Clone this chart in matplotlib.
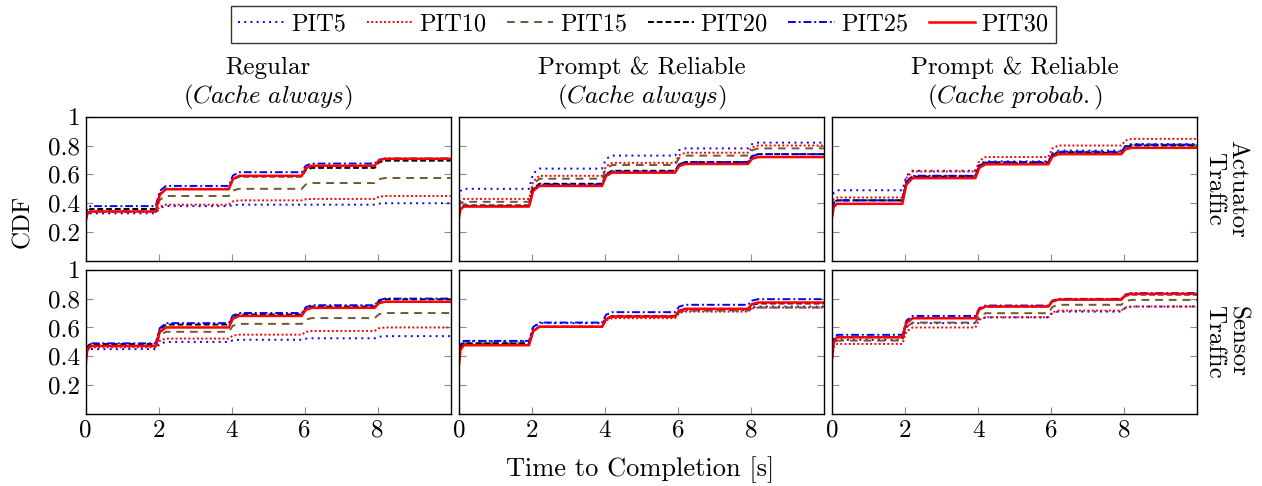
import matplotlib.pyplot as plt

plt.rcParams['font.family'] = 'serif'
plt.rcParams['font.serif'] = ['cmr10', 'DejaVu Serif']
plt.rcParams['mathtext.fontset'] = 'cm'
plt.rcParams['axes.formatter.use_mathtext'] = True

series = ['PIT5', 'PIT10', 'PIT15', 'PIT20', 'PIT25', 'PIT30']
step_times = [0, 2, 4, 6, 8]
x_ticks = [0, 2, 4, 6, 8]
y_ticks = [0.2, 0.4, 0.6, 0.8, 1]
y_tick_labels = ['0.2', '0.4', '0.6', '0.8', '1']
col_titles = ['Regular', 'Prompt & Reliable', 'Prompt & Reliable']
col_subtitles = [r'$(\mathit{Cache\ always})$', r'$(\mathit{Cache\ always})$',
                 r'$(\mathit{Cache\ probab.})$']
row_labels = ['Actuator\nTraffic', 'Sensor\nTraffic']

# plateau levels after each step (0-2, 2-4, 4-6, 6-8, 8-10), one row per PIT
act_regular = [[0.33, 0.38, 0.39, 0.39, 0.40],
               [0.34, 0.39, 0.42, 0.43, 0.45],
               [0.345, 0.45, 0.50, 0.54, 0.575],
               [0.36, 0.50, 0.585, 0.645, 0.695],
               [0.38, 0.52, 0.615, 0.675, 0.71],
               [0.343, 0.497, 0.59, 0.66, 0.708]]
act_regular_start = [0.30, 0.30, 0.30, 0.30, 0.31, 0.27]

act_prompt = [[0.50, 0.64, 0.73, 0.78, 0.82],
              [0.43, 0.59, 0.68, 0.75, 0.80],
              [0.41, 0.57, 0.665, 0.73, 0.78],
              [0.385, 0.535, 0.625, 0.685, 0.74],
              [0.38, 0.53, 0.62, 0.685, 0.74],
              [0.377, 0.52, 0.612, 0.672, 0.72]]
act_prompt_start = [0.44, 0.38, 0.37, 0.33, 0.32, 0.30]

act_probab = [[0.49, 0.625, 0.69, 0.765, 0.81],
              [0.44, 0.62, 0.72, 0.80, 0.846],
              [0.42, 0.59, 0.685, 0.755, 0.805],
              [0.42, 0.585, 0.68, 0.75, 0.80],
              [0.42, 0.59, 0.685, 0.757, 0.806],
              [0.396, 0.574, 0.67, 0.74, 0.784]]
act_probab_start = [0.42, 0.39, 0.36, 0.36, 0.36, 0.31]

sen_regular = [[0.45, 0.50, 0.515, 0.525, 0.54],
               [0.463, 0.523, 0.55, 0.576, 0.60],
               [0.472, 0.57, 0.625, 0.665, 0.70],
               [0.485, 0.62, 0.69, 0.745, 0.795],
               [0.49, 0.63, 0.70, 0.754, 0.80],
               [0.472, 0.60, 0.68, 0.736, 0.778]]
sen_regular_start = [0.38, 0.38, 0.38, 0.40, 0.40, 0.34]

sen_prompt = [[0.505, 0.63, 0.672, 0.72, 0.745],
              [0.483, 0.605, 0.664, 0.71, 0.738],
              [0.49, 0.605, 0.672, 0.717, 0.738],
              [0.49, 0.605, 0.68, 0.729, 0.766],
              [0.507, 0.634, 0.706, 0.757, 0.796],
              [0.477, 0.605, 0.676, 0.729, 0.773]]
sen_prompt_start = [0.40, 0.40, 0.40, 0.40, 0.40, 0.34]

sen_probab = [[0.514, 0.63, 0.67, 0.71, 0.745],
              [0.486, 0.60, 0.671, 0.717, 0.745],
              [0.509, 0.634, 0.699, 0.757, 0.791],
              [0.532, 0.665, 0.745, 0.793, 0.828],
              [0.549, 0.68, 0.752, 0.798, 0.838],
              [0.532, 0.664, 0.745, 0.793, 0.833]]
sen_probab_start = [0.42, 0.40, 0.42, 0.44, 0.44, 0.39]

panels = [[(act_regular, act_regular_start), (act_prompt, act_prompt_start),
           (act_probab, act_probab_start)],
          [(sen_regular, sen_regular_start), (sen_prompt, sen_prompt_start),
           (sen_probab, sen_probab_start)]]

colors = ['#0000ff', '#ff0000', '#735634', 'black', '#0000ff', '#ff0000']
styles = [(0, (1, 2.2)), (0, (1, 1.2)), (0, (4, 3)), (0, (3, 1.5)),
          (0, (4, 1.5, 1, 1.5)), '-']
widths = [1.4, 1.4, 1.4, 1.4, 1.4, 1.8]


def curve(levels, start):
    xs, ys = [0], [start]
    xs += [0.04, 0.13]
    ys += [start + 0.75 * (levels[0] - start), levels[0]]
    for i in range(1, len(step_times)):
        t = step_times[i]
        xs += [t - 0.08, t + 0.03, t + 0.2]
        ys += [levels[i - 1], levels[i - 1] + 0.75 * (levels[i] - levels[i - 1]), levels[i]]
    xs.append(10)
    ys.append(levels[-1])
    return xs, ys


fig = plt.figure(figsize=(12.62, 4.86), dpi=100)
lefts = [0.0679, 0.3637, 0.6595]
bottoms = [0.463, 0.148]
w, h = 0.2892, 0.297
fs = 18

handles = []
for r in range(2):
    for c in range(3):
        ax = fig.add_axes([lefts[c], bottoms[r], w, h])
        levels_all, starts = panels[r][c]
        for k in range(len(series)):
            xs, ys = curve(levels_all[k], starts[k])
            ln, = ax.plot(xs, ys, color=colors[k], linestyle=styles[k], lw=widths[k],
                          label=series[k])
            if r == 0 and c == 0:
                handles.append(ln)
        ax.set_xlim(0, 10)
        ax.set_ylim(0, 1)
        ax.set_xticks(x_ticks)
        ax.set_yticks(y_ticks)
        ax.tick_params(direction='in', length=5, color='0.55', right=True,
                       labelsize=fs, pad=4)
        if c == 0:
            ax.set_yticklabels(y_tick_labels)
        else:
            ax.set_yticklabels([])
        if r == 1:
            ax.set_xticklabels([str(v) for v in x_ticks])
        else:
            ax.set_xticklabels([])
        for s in ax.spines.values():
            s.set_linewidth(1.0)
        if c == 2:
            ax.text(1.077, 0.5, row_labels[r], transform=ax.transAxes, rotation=-90,
                    ha='center', va='center', fontsize=fs, linespacing=1.05)
        if r == 0:
            cx = lefts[c] + w / 2
            fig.text(cx, 0.860, col_titles[c], ha='center', va='center', fontsize=fs)
            fig.text(cx, 0.800, col_subtitles[c], ha='center', va='center', fontsize=fs)

fig.text(0.018, 0.545, 'CDF', rotation=90, ha='center', va='center', fontsize=fs)
fig.text(0.507, 0.033, 'Time to Completion [s]', ha='center', va='center', fontsize=19)

leg = fig.legend(handles, series, loc='upper center', bbox_to_anchor=(0.51, 0.988), ncol=6,
                 frameon=True, fancybox=False, edgecolor='black', fontsize=17.5,
                 handlelength=1.9, handletextpad=0.27, columnspacing=0.85,
                 borderpad=0.3, borderaxespad=0)
leg.get_frame().set_linewidth(1.0)

fig.savefig('out.png', dpi=100)
